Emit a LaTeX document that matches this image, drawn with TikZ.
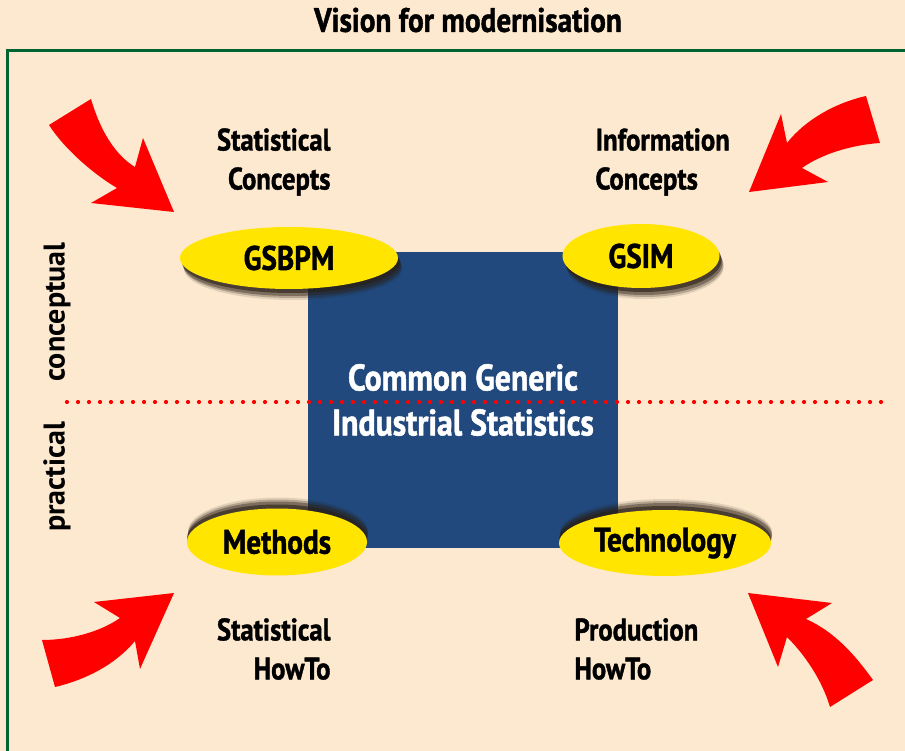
\documentclass[tikz,border=0pt]{standalone}
\usepackage{fontspec}
\setmainfont{PT Sans}[FakeStretch=0.86, FakeBold=1.3]
\newfontfamily\sidefont{PT Sans}
\usetikzlibrary{shapes.geometric,shadows}

\definecolor{peach}{RGB}{253,233,208}
\definecolor{coreblue}{RGB}{33,73,125}
\definecolor{frame green}{RGB}{0,100,50}
\definecolor{blob yellow}{RGB}{255,229,0}
\definecolor{shade}{RGB}{40,30,20}

\begin{document}
\begin{tikzpicture}[
  x=1pt, y=-1pt,
  every node/.style={font=\bfseries\fontsize{34}{39}\selectfont},
  corner text/.style={font=\bfseries\fontsize{31}{39}\selectfont},
  core box/.style={fill=coreblue, text=white, align=center,
    minimum width=310pt, minimum height=296pt, inner sep=0pt,
    font=\bfseries\fontsize{37}{45}\selectfont},
  blob node/.style={ellipse, fill=blob yellow, inner sep=0pt},
  shadow down/.style={drop shadow={shadow xshift=4pt, shadow yshift=-11pt, opacity=.12, fill=shade},
    drop shadow={shadow xshift=4pt, shadow yshift=-9pt, opacity=.25, fill=shade},
    drop shadow={shadow xshift=3pt, shadow yshift=-7pt, opacity=.4, fill=shade},
    drop shadow={shadow xshift=2pt, shadow yshift=-4pt, opacity=.6, fill=shade}},
  shadow up/.style={drop shadow={shadow xshift=1pt, shadow yshift=11pt, opacity=.12, fill=shade},
    drop shadow={shadow xshift=1pt, shadow yshift=9pt, opacity=.25, fill=shade},
    drop shadow={shadow xshift=1pt, shadow yshift=7pt, opacity=.4, fill=shade},
    drop shadow={shadow xshift=0pt, shadow yshift=4pt, opacity=.6, fill=shade}},
  side label/.style={rotate=90, font=\sidefont\bfseries\fontsize{30}{32}\selectfont},
  curved arrow/.style={fill=red},
  divider/.style={draw=red, line width=4.2pt, line cap=round,
    dash pattern=on 0pt off 11pt}
]
\useasboundingbox (0,0) rectangle (905,751);
\fill[peach] (0,0) rectangle (905,751);
\draw[frame green, line width=3pt] (905,51) -- (7,51) -- (7,751);

\node (title) at (468,20) {Vision for modernisation};

% centre block and the dotted split
\node[core box] (core) at (463,400) {Common Generic\\Industrial Statistics};
\coordinate (divL) at (67,402);
\coordinate (divR) at (885,402);
\draw[divider] (divL) -- (divR);

\node[side label] (concept) at (57,312) {conceptual};
\node[side label] (practice) at (57,477) {practical};

% the four corner ellipses
\node[blob node, shadow down, minimum width=218pt, minimum height=62pt] (gsbpm) at (289,258) {GSBPM};
\node[blob node, shadow down, minimum width=157pt, minimum height=64pt] (gsim) at (641,256) {GSIM};
\node[blob node, shadow up, minimum width=180pt, minimum height=67pt] (methods) at (277,542) {Methods};
\node[blob node, shadow up, minimum width=212pt, minimum height=66pt] (tech) at (665,543) {Technology};

\node[corner text, align=right, anchor=east] (statconc) at (334,162) {Statistical\\Concepts};
\node[corner text, align=left, anchor=west] (infoconc) at (592,162) {Information\\Concepts};
\node[corner text, align=right, anchor=east] (stathow) at (334,649) {Statistical\\HowTo};
\node[corner text, align=left, anchor=west] (prodhow) at (571,649) {Production\\HowTo};

% red arrows
\fill[curved arrow] (91,99) .. controls (100,130) and (115,155) .. (135,167)
  -- (143,138) -- (174,212) -- (91,203) -- (117,188)
  .. controls (95,175) and (65,150) .. (49,125) -- cycle;
\fill[curved arrow] (866,96) .. controls (835,103) and (805,120) .. (787,143)
  -- (781,114) -- (749,192) -- (828,182) -- (802,168)
  .. controls (820,155) and (850,145) .. (880,143) -- cycle;
\fill[curved arrow] (42,640) .. controls (70,640) and (100,632) .. (120,618)
  -- (94,602) -- (174,593) -- (140,669) -- (135,641)
  .. controls (115,665) and (85,680) .. (55,687) -- cycle;
\fill[curved arrow] (873,680) .. controls (855,655) and (835,632) .. (806,619)
  -- (832,603) -- (748,593) -- (778,667) -- (787,637)
  .. controls (805,655) and (822,680) .. (830,707) -- cycle;
\end{tikzpicture}
\end{document}
